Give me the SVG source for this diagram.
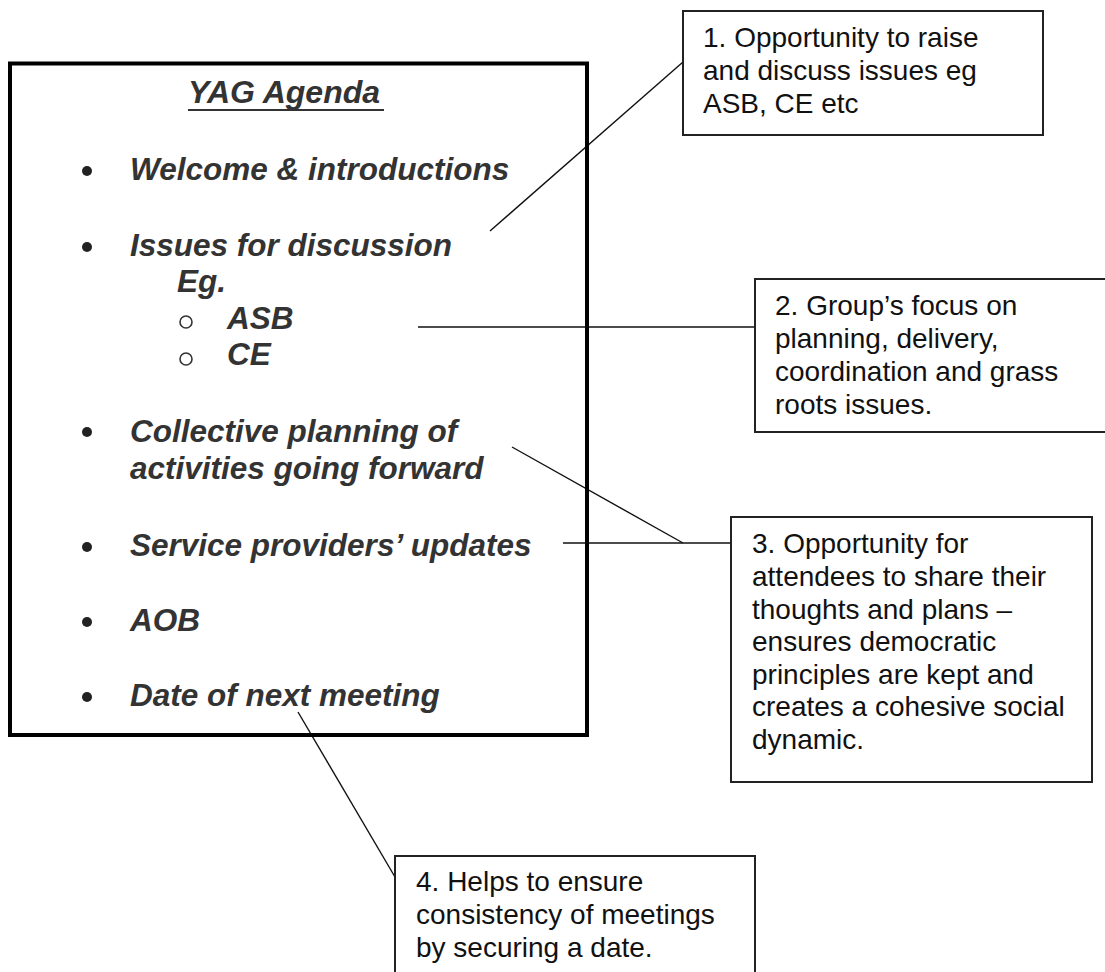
<svg xmlns="http://www.w3.org/2000/svg" width="1105" height="972" viewBox="0 0 1105 972">
<style>
.ag{font-family:"Liberation Sans",Arial,sans-serif;font-weight:bold;font-style:italic;font-size:31.5px;fill:#333}
.ttl{font-family:"Liberation Sans",Arial,sans-serif;font-weight:bold;font-style:italic;font-size:32px;fill:#333}
.co{font-family:"Liberation Sans",Arial,sans-serif;font-size:28px;fill:#111}
.box{fill:#fff;stroke:#222;stroke-width:2}
.con{stroke:#111;stroke-width:1.4;fill:none}
.dot{fill:#222}
.ring{fill:none;stroke:#333;stroke-width:1.6}
</style>
<rect width="1105" height="972" fill="#fff"/>
<g id="connectors">
<line class="con" x1="490" y1="231" x2="683" y2="62"/>
<line class="con" x1="418" y1="327" x2="755" y2="327"/>
<line class="con" x1="512" y1="447" x2="683" y2="543"/>
<line class="con" x1="563" y1="543" x2="731" y2="543"/>
<line class="con" x1="298" y1="712" x2="395" y2="877"/>
</g>
<g id="agenda">
<rect x="10" y="63.5" width="577" height="671.5" fill="none" stroke="#000" stroke-width="4"/>
<text class="ttl" x="188" y="103">YAG Agenda</text>
<line x1="188" y1="110" x2="384" y2="110" stroke="#333" stroke-width="2"/>
<circle class="dot" cx="87" cy="171" r="5"/>
<text class="ag" x="130" y="180">Welcome &amp; introductions</text>
<circle class="dot" cx="87" cy="247" r="5"/>
<text class="ag" x="130" y="255.5">Issues for discussion</text>
<text class="ag" x="177" y="292">Eg.</text>
<circle class="ring" cx="186" cy="322" r="6"/>
<text class="ag" x="227" y="328.5">ASB</text>
<circle class="ring" cx="186" cy="359" r="6"/>
<text class="ag" x="227" y="365">CE</text>
<circle class="dot" cx="87" cy="432" r="5"/>
<text class="ag" x="130" y="442">Collective planning of</text>
<text class="ag" x="130" y="478.5">activities going forward</text>
<circle class="dot" cx="87" cy="547" r="5"/>
<text class="ag" x="130" y="555.5">Service providers’ updates</text>
<circle class="dot" cx="87" cy="622" r="5"/>
<text class="ag" x="130" y="630.5">AOB</text>
<circle class="dot" cx="87" cy="697" r="5"/>
<text class="ag" x="130" y="705.5">Date of next meeting</text>
</g>
<g id="note1">
<rect class="box" x="683" y="11" width="360" height="124"/>
<text class="co" x="703" y="46.5">1. Opportunity to raise</text>
<text class="co" x="703" y="79.5">and discuss issues eg</text>
<text class="co" x="703" y="112.5">ASB, CE etc</text>
</g>
<g id="note2">
<rect class="box" x="755" y="279" width="360" height="153"/>
<text class="co" x="775" y="315">2. Group’s focus on</text>
<text class="co" x="775" y="348">planning, delivery,</text>
<text class="co" x="775" y="381">coordination and grass</text>
<text class="co" x="775" y="414">roots issues.</text>
</g>
<g id="note3">
<rect class="box" x="731" y="517" width="361" height="265"/>
<text class="co" x="752" y="553">3. Opportunity for</text>
<text class="co" x="752" y="586">attendees to share their</text>
<text class="co" x="752" y="618.5">thoughts and plans –</text>
<text class="co" x="752" y="651">ensures democratic</text>
<text class="co" x="752" y="683.5">principles are kept and</text>
<text class="co" x="752" y="716">creates a cohesive social</text>
<text class="co" x="752" y="748.5">dynamic.</text>
</g>
<g id="note4">
<rect class="box" x="395" y="856" width="360" height="130"/>
<text class="co" x="416" y="891">4. Helps to ensure</text>
<text class="co" x="416" y="924">consistency of meetings</text>
<text class="co" x="416" y="957">by securing a date.</text>
</g>
</svg>
